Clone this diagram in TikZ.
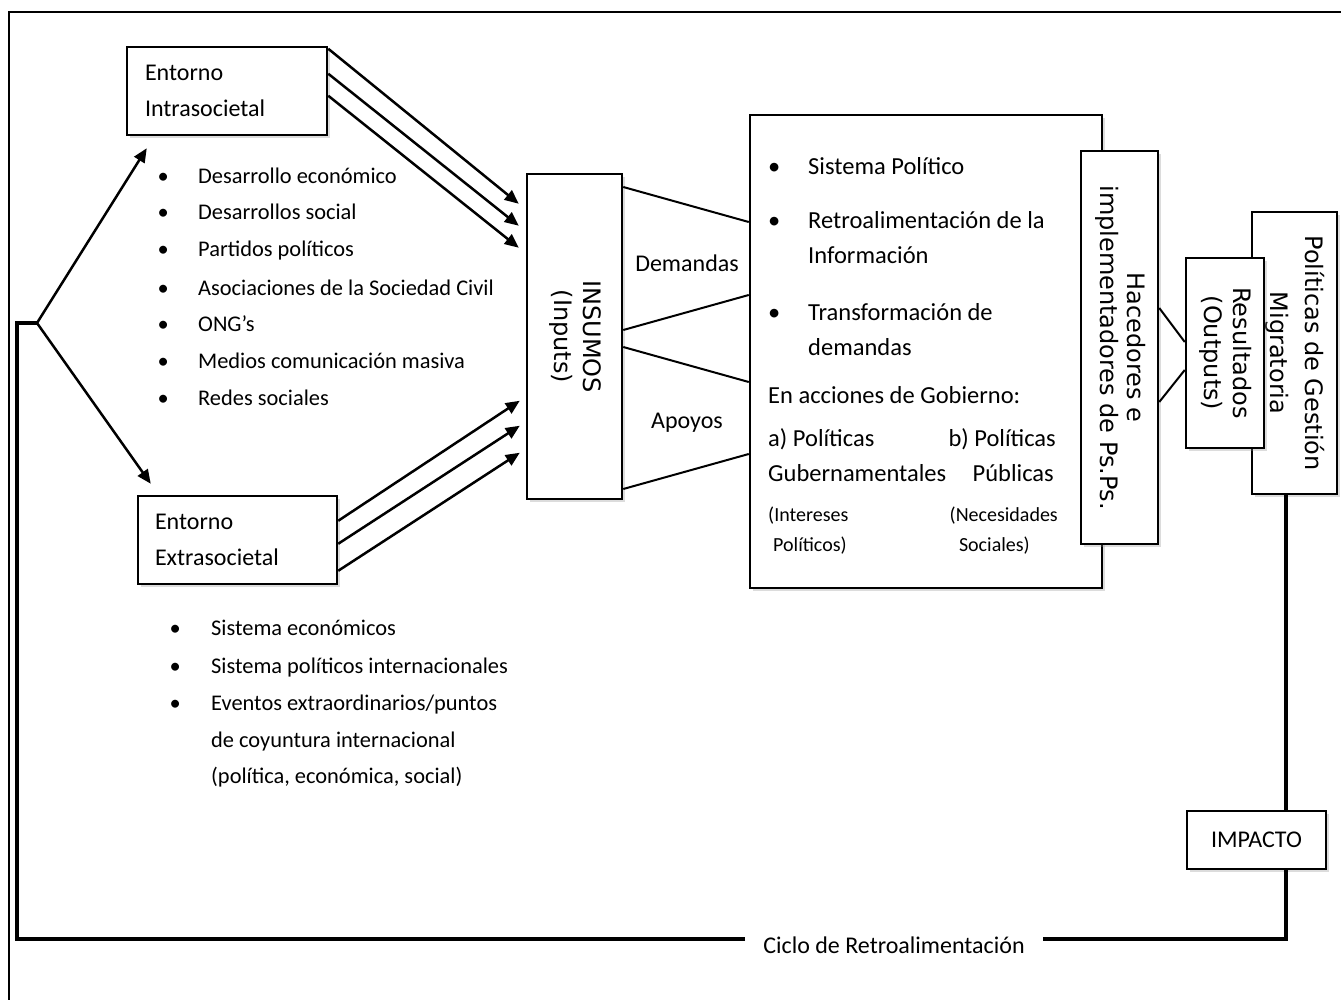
\documentclass[tikz,border=0pt]{standalone}
\usepackage{fontspec}
\usepackage{graphicx}
\setmainfont{Carlito}
\newfontfamily\dejavu{DejaVu Sans}
\usetikzlibrary{arrows.meta,calc,shadows}
\newcommand\mybul[1]{\llap{•\hspace{#1}}}
\begin{document}
\begin{tikzpicture}[x=1pt,y=-1pt,
  rbox/.style={draw, line width=2.5pt, fill=white, inner sep=0pt,
    drop shadow={shadow xshift=3pt, shadow yshift=-3pt, opacity=0.3, fill=black!45}},
  arr/.style={line width=2.5pt, -{Triangle[length=14pt,width=12pt]}},
  con/.style={line width=2pt},
  fb/.style={line width=4pt},
  tx/.style={anchor=base west, inner sep=0pt, font=\fontsize{22.4}{27}\selectfont},
  sx/.style={anchor=base west, inner sep=0pt, font=\fontsize{24.5}{29}\selectfont},
  sxe/.style={anchor=base east, inner sep=0pt, font=\fontsize{24.5}{29}\selectfont},
  smx/.style={anchor=base west, inner sep=0pt, font=\fontsize{20}{24}\selectfont},
  smxe/.style={anchor=base east, inner sep=0pt, font=\fontsize{20}{24}\selectfont},
  lbl/.style={inner sep=0pt, font=\fontsize{24}{29}\selectfont}]
\useasboundingbox (0,0) rectangle (1341,1000);

% outer border
\draw[line width=2pt] (9,1000) -- (9,12) -- (1341,12);

% left boxes
\node[rbox, minimum width=200pt, minimum height=88pt, text width=164pt, align=left,
  font=\fontsize{24}{36}\selectfont] (intra) at (227,91) {Entorno\\Intrasocietal};
\node[rbox, minimum width=199pt, minimum height=88pt, text width=165pt, align=left,
  font=\fontsize{24}{36}\selectfont] (extra) at (237.5,540) {Entorno\\Extrasocietal};

% intra bullets
\node[tx] (i1) at (198,184) {\mybul{29.5pt}Desarrollo económico};
\node[tx] (i2) at (198,220) {\mybul{29.5pt}Desarrollos social};
\node[tx] (i3) at (198,257) {\mybul{29.5pt}Partidos políticos};
\node[tx] (i4) at (198,295) {\mybul{29.5pt}Asociaciones de la Sociedad Civil};
\node[tx] (i5) at (198,331) {\mybul{29.5pt}ONG’s};
\node[tx] (i6) at (198,368) {\mybul{29.5pt}Medios comunicación masiva};
\node[tx] (i7) at (198,405) {\mybul{29.5pt}Redes sociales};

% extra bullets
\node[tx] (e1) at (211,635) {\mybul{30.5pt}Sistema económicos};
\node[tx] (e2) at (211,673) {\mybul{30.5pt}Sistema políticos internacionales};
\node[tx] (e3) at (211,710) {\mybul{30.5pt}Eventos extraordinarios/puntos};
\node[tx] (e4) at (211,747) {de coyuntura internacional};
\node[tx] (e5) at (211,783) {(política, económica, social)};

% insumos
\node[rbox, minimum width=95pt, minimum height=325pt,
  font=\dejavu\fontsize{24}{29}\selectfont] (ins) at (574.5,336.5)
  {\rotatebox{-90}{\begin{tabular}{@{}c@{}}INSUMOS\\(Inputs)\end{tabular}}};

% system box
\node[rbox, minimum width=352pt, minimum height=473pt] (sys) at (926,351.5) {};
\node[sx] (s1) at (808,175) {\mybul{28pt}Sistema Político};
\node[sx] (s2) at (808,229) {\mybul{28pt}Retroalimentación de la};
\node[sx] (s3) at (808,264) {Información};
\node[sx] (s4) at (808,320) {\mybul{28pt}Transformación de};
\node[sx] (s5) at (808,355) {demandas};
\node[sx] (s6) at (768,403) {En acciones de Gobierno:};
\node[sx] (s7) at (768,446) {a) Políticas};
\node[sxe] (s8) at (1056,446) {b) Políticas};
\node[sx] (s9) at (768,481) {Gubernamentales};
\node[sxe] (s10) at (1054,481) {Públicas};
\node[smx] (s11) at (768,521) {(Intereses};
\node[smx] (s12) at (773,551) {Políticos)};
\node[smxe] (s13) at (1058,521) {(Necesidades};
\node[smxe] (s14) at (1030,551) {Sociales)};

% hacedores
\node[rbox, minimum width=77pt, minimum height=393pt,
  font=\dejavu\fontsize{24}{27}\selectfont] (hac) at (1119.5,347.5)
  {\rotatebox{-90}{\begin{tabular}{@{}c@{}}Hacedores e\\implementadores de Ps.Ps.\end{tabular}}};

% politicas and resultados
\node[rbox, minimum width=85pt, minimum height=282pt,
  font=\dejavu\fontsize{24}{35}\selectfont] (pol) at (1294.5,353)
  {\rotatebox{-90}{\begin{tabular}{@{}c@{}}Políticas de Gestión\\Migratoria\end{tabular}}};
\node[rbox, minimum width=78pt, minimum height=190pt,
  font=\dejavu\fontsize{24}{29}\selectfont] (res) at (1225,353)
  {\rotatebox{-90}{\begin{tabular}{@{}c@{}}Resultados\\(Outputs)\end{tabular}}};

% impacto
\node[rbox, minimum width=139pt, minimum height=58pt,
  font=\fontsize{24}{29}\selectfont] (imp) at (1256.5,840) {IMPACTO};

% labels
\node[lbl] (dem) at (687,263) {Demandas};
\node[lbl] (apo) at (687,423) {Apoyos};

% arrows intra -> insumos
\draw[arr] ($(intra.north east)+(0,3)$) -- ($(ins.north west)+(-7,31)$);
\draw[arr] ($(intra.north east)+(0,28)$) -- ($(ins.north west)+(-7,53)$);
\draw[arr] ($(intra.north east)+(0,50)$) -- ($(ins.north west)+(-7,75)$);
% arrows extra -> insumos
\draw[arr] ($(extra.north east)+(0,26)$) -- ($(ins.north west)+(-6,228)$);
\draw[arr] ($(extra.north east)+(0,49)$) -- ($(ins.north west)+(-6,253)$);
\draw[arr] ($(extra.north east)+(0,76)$) -- ($(ins.north west)+(-6,280)$);

% insumos -> system
\draw[con] ($(ins.east)+(0,-149.5)$) -- ($(sys.west)+(0,-129.5)$);
\draw[con] ($(ins.east)+(0,-6.5)$) -- ($(sys.west)+(0,-56.5)$);
\draw[con] ($(ins.east)+(0,10.5)$) -- ($(sys.west)+(0,30.5)$);
\draw[con] ($(ins.east)+(0,152.5)$) -- ($(sys.west)+(0,102.5)$);

% hacedores -> resultados
\draw[con] ($(hac.east)+(0,-39.5)$) -- ($(res.west)+(0,-11)$);
\draw[con] ($(hac.east)+(0,54.5)$) -- ($(res.west)+(0,17)$);

% feedback cycle
\coordinate (j) at (37,323);
\coordinate (fbx) at (1286,939);
\coordinate (bl) at (17,939);
\coordinate (tl) at (17,323);
\node[lbl, inner xsep=18pt, inner ysep=2pt] (cyc) at (894,945) {Ciclo de Retroalimentación};
\draw[fb] (pol.south -| fbx) -- (imp.north -| fbx);
\draw[fb] (imp.south -| fbx) -- (fbx) -- (cyc.east |- fbx);
\draw[fb] (cyc.west |- fbx) -- (bl) -- (tl) -- (j);
\draw[arr] (j) -- ($(intra.south west)+(21,12)$);
\draw[arr] (j) -- ($(extra.north west)+(14,-11)$);
\end{tikzpicture}
\end{document}
